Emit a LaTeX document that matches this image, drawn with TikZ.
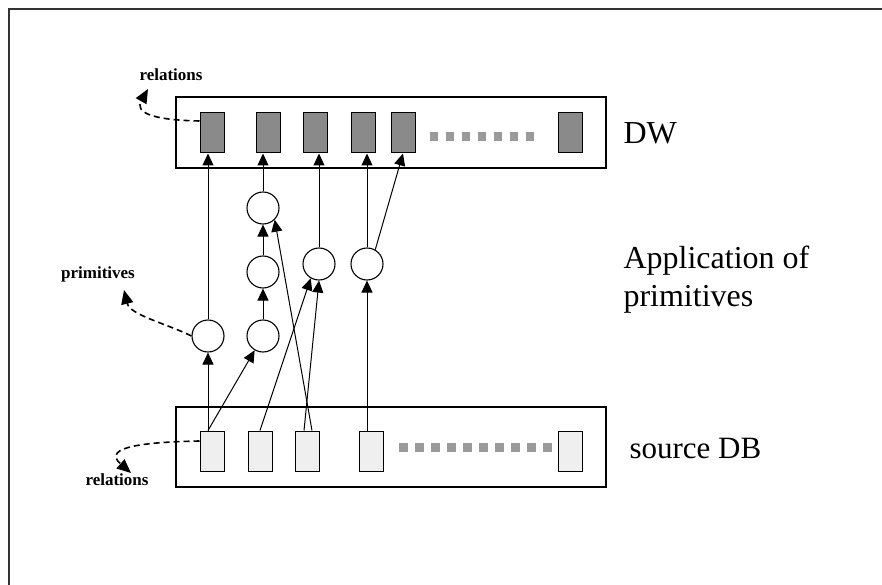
\documentclass[tikz,border=0pt]{standalone}
\usepackage{fontspec}
\setmainfont{Liberation Serif}
\usetikzlibrary{arrows.meta}

\definecolor{dwgray}{HTML}{8A8A8A}
\definecolor{srcgray}{HTML}{EFEFEF}
\definecolor{dotgray}{HTML}{9A9A9A}

\tikzset{
  dwrel/.style = {draw, line width = 1pt, fill = dwgray, inner sep = 0pt,
                  minimum width = 24pt, minimum height = 40pt},
  srcrel/.style = {draw, line width = 1pt, fill = srcgray, inner sep = 0pt,
                   minimum width = 24pt, minimum height = 40pt},
  prim/.style = {draw, circle, line width = 1.1pt, fill = white, inner sep = 0pt,
                 minimum size = 32pt},
  tip/.style = {-{Triangle[length = 12pt, width = 11pt]}},
  flow/.style = {tip, line width = 1pt},
  hint/.style = {-{Triangle[length = 14pt, width = 12pt]}, dash pattern = on 6pt off 4pt,
                 line width = 1.6pt},
  tag/.style = {font = \fontsize{17}{19}\selectfont\bfseries}
}

\begin{document}
\begin{tikzpicture}[x = 1pt, y = -1pt]
      \useasboundingbox (0, 0) rectangle (882, 585);
      % frame
      \draw [line width = 1.6pt, black!80] (9, 585) -- (9, 9) -- (882, 9);
      % the two stores
      \draw [line width = 1.1pt] (176, 97) rectangle (606, 168);
      \draw [line width = 1.1pt] (176, 407) rectangle (606, 487);
      \node [font = \fontsize{32}{36}\selectfont, anchor = west] (dw) at (620, 133) {DW};
      \node [font = \fontsize{31}{35}\selectfont, anchor = west] (src) at (626, 448) {source DB};
      \node [font = \fontsize{32}{38}\selectfont, anchor = west, align = left] (app) at (620, 280)
            {Application of\\primitives};
      % relations of DW
      \foreach \x [count = \i] in {212, 268, 315, 363, 403, 570}{
        \node [dwrel] (d\i) at (\x, 133) {};
      }
      \foreach \k in {0, ..., 6}{
        \fill [dotgray] (430 + 16 * \k, 132) rectangle +(8, 9);
      }
      % relations of source DB
      \foreach \x [count = \i] in {212, 260, 307, 371, 570}{
        \node [srcrel] (s\i) at (\x, 451) {};
      }
      \foreach \k in {0, ..., 9}{
        \fill [dotgray] (399 + 16 * \k, 443) rectangle +(9, 9);
      }
      % primitives
      \node [prim] (p1) at (208, 336) {};
      \node [prim] (p2) at (263, 336) {};
      \node [prim] (p3) at (263, 272) {};
      \node [prim] (p4) at (263, 208) {};
      \node [prim] (p5) at (319, 264) {};
      \node [prim] (p6) at (367, 264) {};
      % flows
      \draw [flow] (s1.north -| p1) -- (p1);
      \draw [flow] (s1.north -| p1) -- (p2);
      \draw [flow] (s2.north) -- (p5.240);
      \draw [flow] ([xshift = -3pt]s3.north) -- (p5.south);
      \draw [flow] ([xshift = 5pt]s3.north) -- (p4.south east);
      \draw [flow] (s4.north -| p6) -- (p6);
      \draw [flow] (p2) -- (p3);
      \draw [flow] (p3) -- (p4);
      \draw [flow] (p1) -- (d1.south -| p1);
      \draw [flow] (p4) -- (d2.south -| p4);
      \draw [flow] (p5) -- (d3.south -| p5);
      \draw [flow] (p6) -- (d4.south -| p6);
      \draw [flow] (p6.60) -- (d5.south);
      % hints
      \node [tag] (reltop) at (171, 75) {relations};
      \node [tag] (primtag) at (98, 274) {primitives};
      \node [tag] (relbot) at (117, 480) {relations};
      \draw [hint] (d1.west |- 0, 121) .. controls (150, 120) and (135, 112) .. (148, 89);
      \draw [hint] (p1.west) .. controls (165, 323) and (130, 315) .. (124, 290);
      \draw [hint] (s1.west |- 0, 441) .. controls (150, 442) and (100, 446) .. (131, 473);
    \end{tikzpicture}
\end{document}
